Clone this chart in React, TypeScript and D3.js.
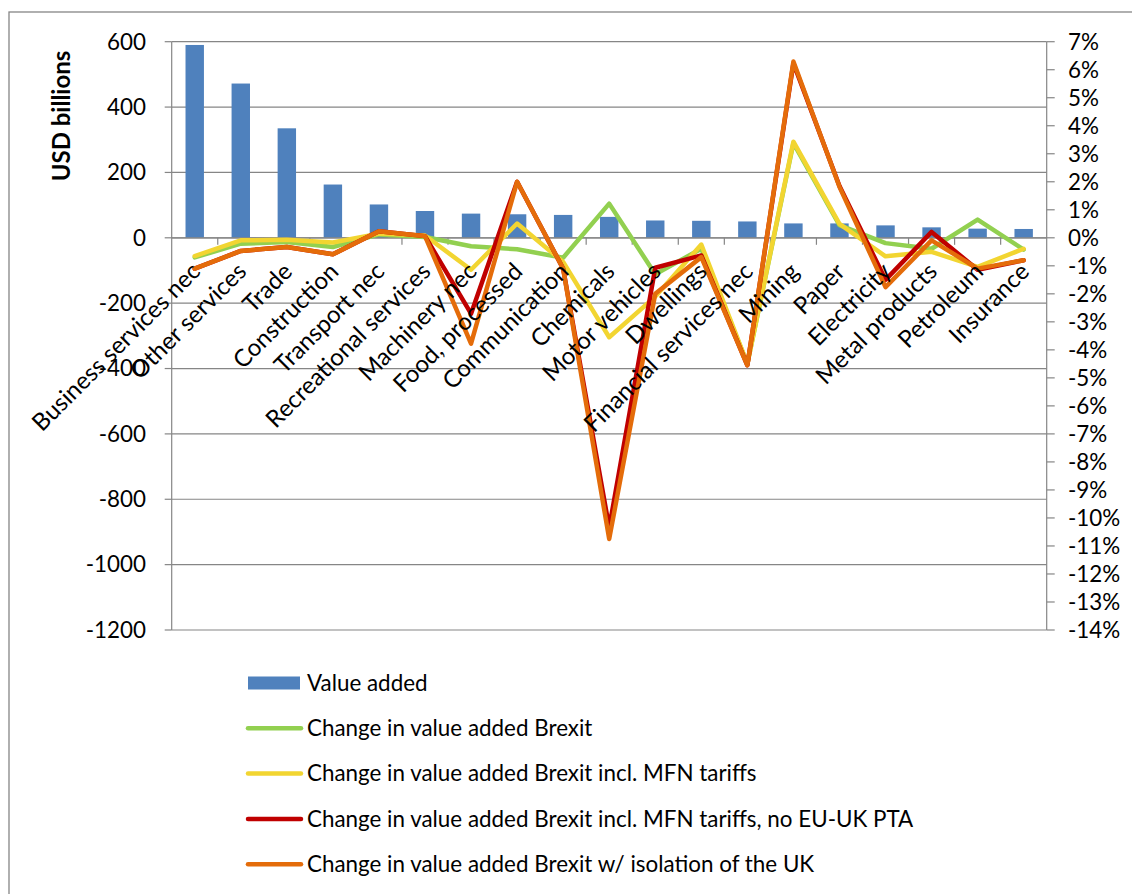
import React from "react";
import * as d3 from "d3";

const categories = [
  "Business services nec", "Other services", "Trade", "Construction", "Transport nec",
  "Recreational services", "Machinery nec", "Food, processed", "Communication", "Chemicals",
  "Motor vehicles", "Dwellings", "Financial services nec", "Mining", "Paper",
  "Electricity", "Metal products", "Petroleum", "Insurance",
];

const valueAdded = [590, 472, 335, 163, 102, 82, 74, 72, 70, 64, 53, 52, 50, 44, 44, 38, 32, 28, 27];

const changeBrexit = [-0.7, -0.21, -0.15, -0.33, 0.12, 0.03, -0.3, -0.41, -0.71, 1.22, -1.3, -0.39, -4.5, 3.38, 0.45, -0.19, -0.39, 0.65, -0.42];
const changeMFN = [-0.65, -0.09, -0.07, -0.17, 0.15, 0.08, -1.14, 0.51, -0.86, -3.55, -2.1, -0.24, -4.5, 3.43, 0.5, -0.66, -0.5, -1.04, -0.39];
const changeNoPTA = [-1.1, -0.47, -0.33, -0.59, 0.23, 0.06, -2.71, 2.0, -1.1, -10.35, -1.07, -0.63, -4.55, 6.23, 1.85, -1.5, 0.21, -1.14, -0.8];
const changeIsolation = [-1.1, -0.47, -0.33, -0.59, 0.23, 0.06, -3.78, 2.0, -1.1, -10.75, -2.0, -0.69, -4.55, 6.29, 1.82, -1.76, -0.09, -1.1, -0.8];

const leftTicks = [600, 400, 200, 0, -200, -400, -600, -800, -1000, -1200];
const rightTicks = d3.range(7, -15, -1);

const lineSeries = [
  { name: "Change in value added Brexit", values: changeBrexit, color: "#92D050" },
  { name: "Change in value added Brexit incl. MFN tariffs", values: changeMFN, color: "#F2D531" },
  { name: "Change in value added Brexit incl. MFN tariffs, no EU-UK PTA", values: changeNoPTA, color: "#C00000" },
  { name: "Change in value added Brexit w/ isolation of the UK", values: changeIsolation, color: "#E46C0A" },
];

const FONT = "Lato, 'Open Sans', sans-serif";
const GRID = "#868686";
const FS = 22.4;
const CAT_FS = 24;

export default function App() {
  const W = 1132, H = 894;
  const left = 171.7, right = 1046.7, top = 41.7, bottom = 630;

  const x = d3.scaleBand<string>().domain(categories).range([left, right]).paddingInner(0).paddingOuter(0);
  const yL = d3.scaleLinear().domain([-1200, 600]).range([bottom, top]);
  const yR = d3.scaleLinear().domain([-14, 7]).range([bottom, top]);
  const barW = x.bandwidth() * 0.4;
  const zeroY = yL(0);

  const line = (vals: number[]) =>
    d3.line<number>()
      .x((_, i) => (x(categories[i]) as number) + x.bandwidth() / 2)
      .y((v) => yR(v))(vals) as string;

  const legendY0 = 683;
  const legendStep = 45.3;

  return (
    <svg width={W} height={H} style={{ position: "absolute", left: 0, top: 0, background: "#fff" }} fontFamily={FONT}>
      <rect x={0} y={0} width={W} height={H} fill="#fff" />
      <rect x={9} y={12} width={W + 20} height={H + 20} fill="none" stroke={GRID} strokeWidth={1.3} />

      {/* gridlines */}
      {leftTicks.map((t) => (
        <line key={"g" + t} x1={left} x2={right} y1={yL(t)} y2={yL(t)} stroke={GRID} strokeWidth={1.2} />
      ))}
      {/* left axis */}
      <line x1={left} x2={left} y1={top} y2={bottom} stroke={GRID} strokeWidth={1.2} />
      {leftTicks.map((t) => (
        <g key={"lt" + t}>
          <line x1={left - 7} x2={left} y1={yL(t)} y2={yL(t)} stroke={GRID} strokeWidth={1.2} />
          <text x={146} y={yL(t)} dy="0.35em" textAnchor="end" fontSize={FS} fill="#000">{t}</text>
        </g>
      ))}
      {/* right axis */}
      <line x1={right} x2={right} y1={top} y2={bottom} stroke={GRID} strokeWidth={1.2} />
      {rightTicks.map((t) => (
        <g key={"rt" + t}>
          <line x1={right} x2={right + 8} y1={yR(t)} y2={yR(t)} stroke={GRID} strokeWidth={1.2} />
          <text x={1068} y={yR(t)} dy="0.35em" textAnchor="start" fontSize={FS} fill="#000">{t + "%"}</text>
        </g>
      ))}
      <text transform={`translate(70,116) rotate(-90)`} textAnchor="middle" fontSize={24} fontWeight="bold" fill="#000">USD billions</text>

      {/* bars */}
      {valueAdded.map((v, i) => {
        const cx = (x(categories[i]) as number) + x.bandwidth() / 2;
        return <rect key={"b" + i} x={cx - barW / 2} y={yL(v)} width={barW} height={zeroY - yL(v)} fill="#4F81BD" />;
      })}

      {/* category axis */}
      <line x1={left} x2={right} y1={zeroY} y2={zeroY} stroke={GRID} strokeWidth={1.2} />
      {categories.map((c, i) => {
        const bx = (x(c) as number) + x.bandwidth();
        return i < categories.length - 1 ? (
          <line key={"ct" + i} x1={bx} x2={bx} y1={zeroY} y2={zeroY + 7} stroke={GRID} strokeWidth={1.2} />
        ) : null;
      })}

      {/* lines */}
      {lineSeries.map((s) => (
        <path key={s.name} d={line(s.values)} fill="none" stroke={s.color} strokeWidth={4.5} strokeLinejoin="round" strokeLinecap="round" />
      ))}

      {/* category labels */}
      {categories.map((c, i) => {
        const cx = (x(c) as number) + x.bandwidth() / 2;
        return (
          <text key={"cl" + i} transform={`translate(${cx + 7},${273}) rotate(-45)`} textAnchor="end" fontSize={CAT_FS} fill="#000">{c}</text>
        );
      })}

      {/* legend */}
      <rect x={248} y={legendY0 - 6.5} width={52} height={13} fill="#4F81BD" />
      <text x={307} y={legendY0} dy="0.35em" fontSize={FS} fill="#000">Value added</text>
      {lineSeries.map((s, i) => {
        const yy = legendY0 + legendStep * (i + 1);
        return (
          <g key={"lg" + i}>
            <line x1={248} x2={301} y1={yy} y2={yy} stroke={s.color} strokeWidth={4.5} strokeLinecap="round" />
            <text x={307} y={yy} dy="0.35em" fontSize={FS} fill="#000">{s.name}</text>
          </g>
        );
      })}
    </svg>
  );
}
